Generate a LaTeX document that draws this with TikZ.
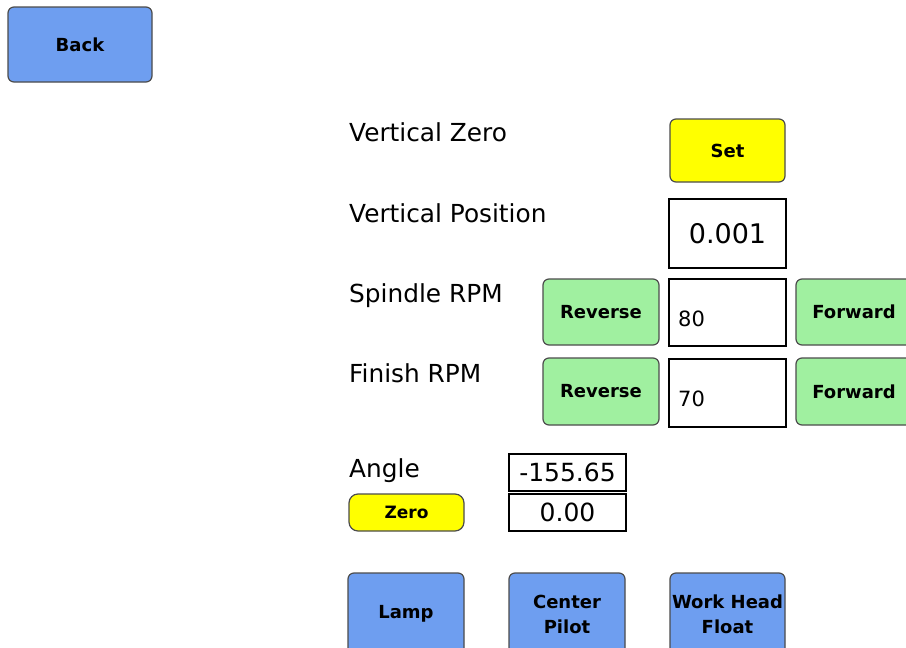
\documentclass[tikz,border=0pt]{standalone}
\usepackage{fontspec}
\setmainfont{DejaVu Sans}
\usetikzlibrary{positioning}

\definecolor{btnblue}{RGB}{110,158,240}
\definecolor{btngreen}{RGB}{160,240,160}
\definecolor{btnyellow}{RGB}{255,255,0}

\tikzset{
  btn/.style={draw=black!70, line width=1.2pt, rounded corners=6pt,
    minimum width=116pt, inner sep=0pt, align=center,
    font=\fontsize{18}{25}\selectfont\bfseries},
  bluebtn/.style={btn, fill=btnblue, minimum height=82pt},
  greenbtn/.style={btn, fill=btngreen, minimum height=66pt},
  valbox/.style={draw, line width=1.2pt, fill=white, minimum width=117pt, inner sep=0pt},
  lbl/.style={anchor=base west, inner sep=0pt, font=\fontsize{24.8}{26}\selectfont},
}

\begin{document}
\begin{tikzpicture}[x=1pt, y=-1pt]
        % Page frame
        \clip (0,0) rectangle (906,648);
        \fill[white] (0,0) rectangle (906,648);

        % Back button
        \node[bluebtn, minimum width=144pt, minimum height=75pt] (back) at (80,44.5) {Back};

        % Vertical zero / position
        \node[lbl] (vzero) at (349,141) {Vertical Zero};
        \node[btn, fill=btnyellow, minimum width=115pt, minimum height=63pt] (set) at (727.5,150.5) {Set};
        \node[lbl] (vpos) at (349,222) {Vertical Position};
        \node[valbox, minimum height=69pt, font=\fontsize{27}{29}\selectfont] (posbox) at (727.5,233.5) {0.001};

        % Spindle RPM row
        \node[lbl] (spindle) at (349,302) {Spindle RPM};
        \node[greenbtn] (revA) at (601,312) {Reverse};
        \node[valbox, minimum height=67pt] (spinbox) at (727.5,312.5) {};
        \node[anchor=base west, inner sep=0pt, font=\fontsize{21}{23}\selectfont] (spinval) at (678,326) {80};
        \node[greenbtn] (fwdA) at (854,312) {Forward};

        % Finish RPM row
        \node[lbl] (finish) at (349,382) {Finish RPM};
        \node[greenbtn, minimum height=67pt] (revB) at (601,391.5) {Reverse};
        \node[valbox, minimum height=68pt] (finbox) at (727.5,393) {};
        \node[anchor=base west, inner sep=0pt, font=\fontsize{21}{23}\selectfont] (finval) at (678,406) {70};
        \node[greenbtn, minimum height=67pt] (fwdB) at (854,391.5) {Forward};

        % Angle readout
        \node[lbl] (angle) at (349,477) {Angle};
        \node[valbox, minimum height=37pt, font=\fontsize{25}{27}\selectfont] (anglebox) at (567.5,472.5) {-155.65};
        \node[btn, fill=btnyellow, minimum width=115pt, minimum height=37pt, rounded corners=9pt,
              font=\fontsize{17}{19}\selectfont\bfseries] (zero) at (406.5,512.5) {Zero};
        \node[valbox, minimum height=37pt, font=\fontsize{25}{27}\selectfont] (offbox) at (567.5,512.5) {0.00};

        % Bottom buttons
        \node[bluebtn] (lamp) at (406,614) {Lamp};
        \node[bluebtn] (pilot) at (567,614) {Center\\Pilot};
        \node[bluebtn, minimum width=115pt] (float) at (727.5,614) {Work Head\\Float};
\end{tikzpicture}
\end{document}
